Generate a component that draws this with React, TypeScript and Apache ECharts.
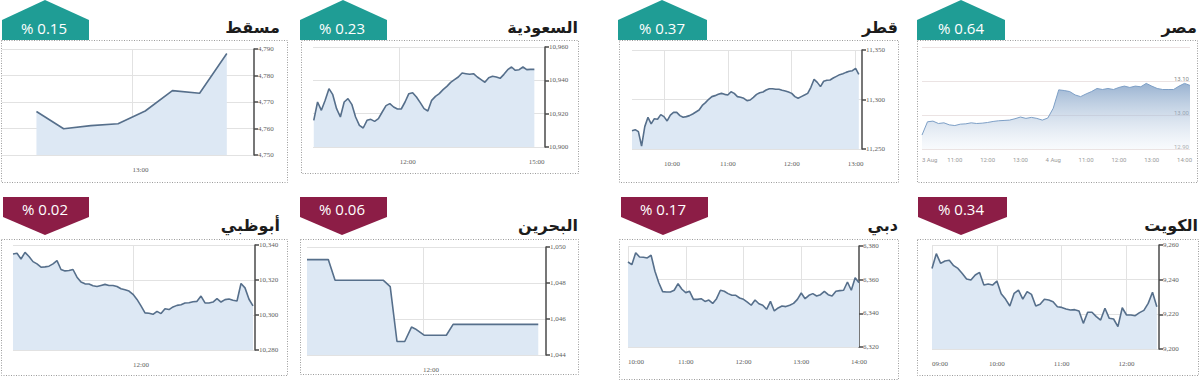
import React, { useEffect, useRef } from 'react';
import * as echarts from 'echarts';

// ---------- helpers for time categories ----------
const toMin = (t: string) => {
  const [h, m] = t.split(':').map(Number);
  return h * 60 + m;
};
const fmt = (m: number) =>
  `${String(Math.floor(m / 60)).padStart(2, '0')}:${String(m % 60).padStart(2, '0')}`;
const minuteRange = (a: string, b: string) => {
  const out: string[] = [];
  for (let m = toMin(a); m <= toMin(b); m++) out.push(fmt(m));
  return out;
};
const stepTimes = (start: string, step: number, n: number) =>
  Array.from({ length: n }, (_, i) => fmt(toMin(start) + step * i));

// ---------- data ----------
const names = ['مسقط', 'السعودية', 'قطر', 'مصر', 'أبوظبي', 'البحرين', 'دبي', 'الكويت'];
const changes = ['% 0.15', '% 0.23', '% 0.37', '% 0.64', '% 0.02', '% 0.06', '% 0.17', '% 0.34'];
const directions = ['up', 'up', 'up', 'up', 'down', 'down', 'down', 'down'];

// Muscat
const muscatAxis = minuteRange('11:48', '14:07');
const muscatTimes = ['12:07', '12:22', '12:37', '12:52', '13:07', '13:22', '13:37', '13:52'];
const muscatValues = [4766.4, 4759.9, 4761.1, 4761.8, 4766.6, 4774.3, 4773.3, 4788.3];
const muscatXLabels = ['13:00'];
const muscatXLines = ['13:00'];

// Saudi
const saudiAxis = minuteRange('10:06', '15:11');
const saudiValues = [
  10916, 10927, 10922, 10928, 10935, 10931.4, 10923, 10918, 10927, 10929,
  10925.6, 10918, 10913, 10911.4, 10916, 10916.6, 10915.4, 10917, 10921, 10924.8,
  10926, 10924, 10922.8, 10922.8, 10927, 10932, 10932.6, 10930, 10926.6, 10923,
  10921.6, 10928, 10930.4, 10932, 10934.4, 10936.4, 10938.8, 10940.4, 10942, 10944.4,
  10944, 10943.6, 10944, 10942, 10940.4, 10938.8, 10941.6, 10942.4, 10942, 10941.2,
  10943.6, 10946.4, 10948, 10946, 10946.4, 10948, 10946.4, 10946.6, 10946.6,
];
const saudiTimes = stepTimes('10:07', 5, saudiValues.length);
const saudiXLabels = ['12:00', '15:00'];
const saudiXLines = ['12:00'];

// Qatar
const qatarAxis = minuteRange('09:30', '13:06');
const qatarValues = [
  11268.5, 11269.5, 11267.5, 11253, 11272.6, 11282, 11275.3, 11280.6, 11280, 11284.7,
  11282.7, 11278.3, 11284.3, 11287, 11287, 11283.7, 11282, 11282.7, 11283.7, 11285.4,
  11287.4, 11289.4, 11294, 11296.8, 11300.2, 11302.9, 11303.9, 11305.2, 11306.2, 11305.2,
  11304.5, 11307.9, 11306.2, 11302.9, 11302.2, 11301.2, 11298.8, 11299.5, 11302.2, 11305.2,
  11306.9, 11307.6, 11309.6, 11310.9, 11310.9, 11310.3, 11310.3, 11309.3, 11308.6, 11307.6,
  11306.2, 11302.9, 11301.2, 11302.9, 11304.5, 11306.2, 11312.3, 11320.4, 11317.3, 11313,
  11318.4, 11319.4, 11319.7, 11321.7, 11323.4, 11325.1, 11326.1, 11327.4, 11328.5, 11329.1,
  11331.5, 11325.4,
];
const qatarTimes = stepTimes('09:30', 3, qatarValues.length);
const qatarXLabels = ['10:00', '11:00', '12:00', '13:00'];
const qatarXLines = ['10:00', '11:00', '12:00', '13:00'];

// Egypt (two sessions)
const egyptTimes = [
  ...stepTimes('10:00', 10, 24).map((t) => `3 Aug ${t}`),
  ...stepTimes('10:00', 10, 26).map((t) => `4 Aug ${t}`),
];
const egyptValues = [
  12.941, 12.98, 12.982, 12.975, 12.977, 12.971, 12.969, 12.973, 12.974, 12.977,
  12.975, 12.976, 12.978, 12.981, 12.983, 12.984, 12.985, 12.989, 12.994, 12.99,
  12.993, 12.99, 12.985, 12.991, 13.02, 13.074, 13.072, 13.069, 13.059, 13.054,
  13.062, 13.069, 13.078, 13.075, 13.078, 13.075, 13.081, 13.085, 13.081, 13.085,
  13.083, 13.093, 13.085, 13.078, 13.075, 13.075, 13.075, 13.085, 13.093, 13.087,
];

// Abu Dhabi
const abuDhabiAxis = minuteRange('10:00', '14:02');
const abuDhabiValues = [
  10334.9, 10335.3, 10332.0, 10335.8, 10333.4, 10330.5, 10329.2, 10327.3, 10327.5, 10327.9,
  10329.2, 10331.1, 10326.0, 10325.2, 10325.4, 10326.0, 10321.6, 10318.8, 10317.8, 10317.7,
  10316.7, 10316.3, 10316.9, 10317.5, 10316.9, 10316.9, 10316.3, 10315.0, 10314.4, 10313.7,
  10311.8, 10308.9, 10305.2, 10301.2, 10301.0, 10300.4, 10302.1, 10300.8, 10303.6, 10303.1,
  10304.6, 10305.5, 10305.9, 10306.9, 10307.0, 10307.6, 10307.8, 10310.8, 10306.9, 10306.9,
  10307.4, 10309.3, 10307.4, 10308.8, 10309.1, 10308.4, 10308.0, 10318.0, 10315.5, 10309.0,
  10305.2,
];
const abuDhabiTimes = stepTimes('10:00', 4, abuDhabiValues.length);
const abuDhabiXLabels = ['12:00'];
const abuDhabiXLines = ['12:00'];

// Bahrain
const bahrainAxis = minuteRange('10:00', '14:07');
const bahrainTimes = ['10:00', '10:22', '10:29', '11:19', '11:26', '11:33', '11:41', '11:48', '11:52', '12:01', '12:24', '12:31', '13:59'];
const bahrainValues = [1049.3, 1049.3, 1048.15, 1048.15, 1047.8, 1044.75, 1044.75, 1045.55, 1045.45, 1045.1, 1045.1, 1045.7, 1045.7];
const bahrainXLabels = ['12:00'];
const bahrainXLines = ['12:00'];

// Dubai
const dubaiAxis = minuteRange('10:00', '14:00');
const dubaiValues = [
  6370.5, 6368.9, 6376.0, 6373.5, 6373.3, 6372.9, 6374.5, 6365.0, 6358.2, 6352.9,
  6352.7, 6352.7, 6353.7, 6357.6, 6354.3, 6352.3, 6353.1, 6348.3, 6348.3, 6348.7,
  6347.1, 6347.9, 6345.9, 6348.7, 6353.7, 6353.1, 6351.7, 6350.7, 6350.7, 6349.1,
  6348.3, 6346.7, 6344.8, 6347.9, 6345.7, 6344.8, 6342.4, 6347.1, 6341.4, 6343.2,
  6344.4, 6344.0, 6344.8, 6345.9, 6348.3, 6352.1, 6348.7, 6350.7, 6351.7, 6350.3,
  6351.1, 6353.1, 6351.1, 6350.3, 6353.1, 6353.5, 6353.7, 6358.6, 6353.7, 6361.2,
  6358.2,
];
const dubaiTimes = stepTimes('10:00', 4, dubaiValues.length);
const dubaiXLabels = ['10:00', '11:00', '12:00', '13:00', '14:00'];
const dubaiXLines = ['10:00', '11:00', '12:00', '13:00'];

// Kuwait
const kuwaitAxis = minuteRange('09:00', '12:30');
const kuwaitValues = [
  9246.5, 9255.0, 9249.4, 9250.8, 9251.2, 9248.1, 9246.5, 9243.5, 9240.4, 9239.8,
  9242.7, 9244.2, 9236.9, 9237.5, 9236.9, 9239.2, 9231.9, 9228.8, 9224.8, 9232.1,
  9234.0, 9228.8, 9233.1, 9231.5, 9224.8, 9225.8, 9228.7, 9228.3, 9227.3, 9224.4,
  9224.0, 9223.1, 9222.5, 9222.7, 9221.9, 9214.8, 9221.2, 9221.2, 9218.7, 9216.7,
  9223.5, 9217.7, 9217.3, 9212.9, 9223.8, 9219.6, 9219.6, 9219.2, 9221.0, 9222.3,
  9226.3, 9232.7, 9224.4,
];
const kuwaitTimes = stepTimes('09:00', 4, kuwaitValues.length);
const kuwaitXLabels = ['09:00', '10:00', '11:00', '12:00'];
const kuwaitXLines = ['09:00', '10:00', '11:00', '12:00'];

// y-axis ranges [min, max, step]
const yRanges: [number, number, number][] = [
  [4750, 4790, 10],
  [10900, 10960, 20],
  [11250, 11350, 50],
  [12.9, 13.2, 0.1],
  [10280, 10340, 20],
  [1044, 1050, 2],
  [6320, 6380, 20],
  [9200, 9260, 20],
];

// ---------- layout (positions / styles only) ----------
const layouts = [
  { box: [1, 40, 287, 182], badge: [2, 45, 89], textX: 44, titleX: 280, grid: { left: 2, top: 49, width: 252, height: 106 } },
  { box: [301, 40, 578, 173], badge: [300, 343, 387], textX: 342, titleX: 578, grid: { left: 313, top: 47, width: 232, height: 100 } },
  { box: [619, 40, 898, 182], badge: [618, 662, 707], textX: 662, titleX: 898, grid: { left: 632, top: 50, width: 230, height: 99 } },
  { box: [917, 40, 1197, 182], badge: [917, 961, 1005], textX: 961, titleX: 1197, grid: { left: 922, top: 47, width: 268, height: 102 } },
  { box: [1, 239, 287, 375], badge: [3, 45, 89], textX: 45, titleX: 280, grid: { left: 13, top: 245, width: 242, height: 105 } },
  { box: [300, 239, 578, 374], badge: [300, 342, 387], textX: 342, titleX: 578, grid: { left: 307, top: 247, width: 239, height: 108 } },
  { box: [619, 239, 898, 379], badge: [621, 663, 708], textX: 663, titleX: 898, grid: { left: 628, top: 246, width: 231, height: 101 } },
  { box: [917, 239, 1198, 375], badge: [918, 961, 1007], textX: 961, titleX: 1198, grid: { left: 932, top: 245, width: 227, height: 104 } },
];

const panelData = [
  { axis: muscatAxis, times: muscatTimes, values: muscatValues, labels: muscatXLabels, lines: muscatXLines },
  { axis: saudiAxis, times: saudiTimes, values: saudiValues, labels: saudiXLabels, lines: saudiXLines },
  { axis: qatarAxis, times: qatarTimes, values: qatarValues, labels: qatarXLabels, lines: qatarXLines },
  { axis: egyptTimes, times: egyptTimes, values: egyptValues, labels: [], lines: [] },
  { axis: abuDhabiAxis, times: abuDhabiTimes, values: abuDhabiValues, labels: abuDhabiXLabels, lines: abuDhabiXLines },
  { axis: bahrainAxis, times: bahrainTimes, values: bahrainValues, labels: bahrainXLabels, lines: bahrainXLines },
  { axis: dubaiAxis, times: dubaiTimes, values: dubaiValues, labels: dubaiXLabels, lines: dubaiXLines },
  { axis: kuwaitAxis, times: kuwaitTimes, values: kuwaitValues, labels: kuwaitXLabels, lines: kuwaitXLines },
];

const TEAL = '#1f9d95';
const MAROON = '#8c1d46';
const GRID_LINE = '#e2e2e2';
const LABEL_FONT = 'Liberation Serif';
const withCommas = (v: number) => String(Math.round(v)).replace(/\B(?=(\d{3})+(?!\d))/g, ',');

function buildOption() {
  const grid: any[] = [];
  const xAxis: any[] = [];
  const yAxis: any[] = [];
  const series: any[] = [];
  const graphic: any[] = [];

  layouts.forEach((lay, i) => {
    const pd = panelData[i];
    const isEgypt = i === 3;
    const [ymin, ymax, ystep] = yRanges[i];
    grid.push({ ...lay.grid, containLabel: false });

    if (isEgypt) {
      xAxis.push({
        type: 'category', gridIndex: i, data: pd.axis, boundaryGap: false,
        axisLine: { show: false }, axisTick: { show: false },
        axisLabel: {
          interval: (idx: number) => idx % 6 === 0,
          formatter: (v: string) => (v.endsWith('10:00') ? v.slice(0, 5) : v.slice(6)),
          alignMinLabel: 'left',
          fontSize: 6, color: '#9a9a9a', fontFamily: 'Roboto', margin: 7,
        },
        splitLine: { show: false },
      });
      yAxis.push({
        type: 'value', gridIndex: i, position: 'right', min: ymin, max: ymax, interval: ystep,
        axisLine: { show: false }, axisTick: { show: false },
        axisLabel: {
          inside: true, showMaxLabel: false, verticalAlign: 'bottom', margin: 1,
          fontSize: 6, color: '#8a8a8a', fontFamily: 'Roboto',
          formatter: (v: number) => v.toFixed(2),
        },
        splitLine: { lineStyle: { color: '#ebe3e3', width: 1 } },
      });
      series.push({
        type: 'line', xAxisIndex: i, yAxisIndex: i, silent: true,
        data: pd.times.map((t, k) => [t, pd.values[k]]),
        symbol: 'none',
        lineStyle: { color: '#7d9fc6', width: 1 },
        areaStyle: {
          origin: 'start',
          color: {
            type: 'linear', x: 0, y: 0, x2: 0, y2: 1,
            colorStops: [
              { offset: 0, color: 'rgba(103,141,186,0.95)' },
              { offset: 1, color: 'rgba(236,242,249,0.5)' },
            ],
          },
        },
      });
    } else {
      xAxis.push({
        type: 'category', gridIndex: i, data: pd.axis, boundaryGap: false,
        axisLine: { show: false }, axisTick: { show: false },
        axisLabel: {
          interval: (_idx: number, v: string) => pd.labels.includes(v),
          alignMinLabel: 'left',
          fontSize: 7, color: '#5e5e5e', fontFamily: LABEL_FONT, margin: 11,
        },
        splitLine: {
          show: true,
          interval: (_idx: number, v: string) => pd.lines.includes(v),
          lineStyle: { color: GRID_LINE, width: 1 },
        },
      });
      yAxis.push({
        type: 'value', gridIndex: i, position: 'right', min: ymin, max: ymax, interval: ystep,
        axisLine: { show: true, lineStyle: { color: '#4a4a4a', width: 1.5 } },
        axisTick: { show: true, length: 4, lineStyle: { color: '#4a4a4a', width: 1.5 } },
        axisLabel: { fontSize: 7, color: '#5e5e5e', fontFamily: LABEL_FONT, margin: 4, formatter: withCommas },
        splitLine: { lineStyle: { color: GRID_LINE, width: 1 } },
      });
      series.push({
        type: 'line', xAxisIndex: i, yAxisIndex: i, silent: true,
        data: pd.times.map((t, k) => [t, pd.values[k]]),
        symbol: 'none',
        lineStyle: { color: '#566f8b', width: 1.6 },
        areaStyle: { origin: 'start', color: '#dde8f4', opacity: 1 },
      });
    }

    // dotted frame
    const [x1, y1, x2, y2] = lay.box;
    graphic.push({
      type: 'rect', silent: true, z: 1,
      shape: { x: x1 + 0.5, y: y1 + 0.5, width: x2 - x1, height: y2 - y1 },
      style: { fill: 'none', stroke: '#9c9c9c', lineWidth: 1, lineDash: [1, 1.5] },
    });

    // badge
    const [L, P, R] = lay.badge;
    const up = directions[i] === 'up';
    const pts = up
      ? [[L, 40], [L, 20], [P, 0], [R, 20], [R, 40]]
      : [[L, 197], [R, 197], [R, 217], [P, 235], [L, 217]];
    graphic.push({
      type: 'polygon', silent: true, z: 10,
      shape: { points: pts },
      style: { fill: up ? TEAL : MAROON },
    });
    graphic.push({
      type: 'text', silent: true, z: 11,
      x: lay.textX, y: up ? 28 : 209,
      style: {
        text: changes[i], fill: '#ffffff', fontSize: 15, fontFamily: 'Open Sans',
        align: 'center', verticalAlign: 'middle', textAlign: 'center', textVerticalAlign: 'middle',
      },
    });

    // title
    graphic.push({
      type: 'text', silent: true, z: 11,
      x: lay.titleX, y: up ? 27 : 225,
      style: {
        text: names[i], fill: '#1c1c1c', fontSize: 16, fontWeight: 'bold', fontFamily: 'DejaVu Sans',
        align: 'right', verticalAlign: 'middle', textAlign: 'right', textVerticalAlign: 'middle',
      },
    });
  });

  return { animation: false, backgroundColor: '#ffffff', grid, xAxis, yAxis, series, graphic };
}

export default function App() {
  const ref = useRef<HTMLDivElement>(null);
  useEffect(() => {
    document.body.style.margin = '0';
    if (!ref.current) return;
    const chart = echarts.init(ref.current, undefined, { renderer: 'svg' });
    chart.setOption(buildOption() as any);
    return () => chart.dispose();
  }, []);
  return <div ref={ref} style={{ width: 1200, height: 384 }} />;
}
